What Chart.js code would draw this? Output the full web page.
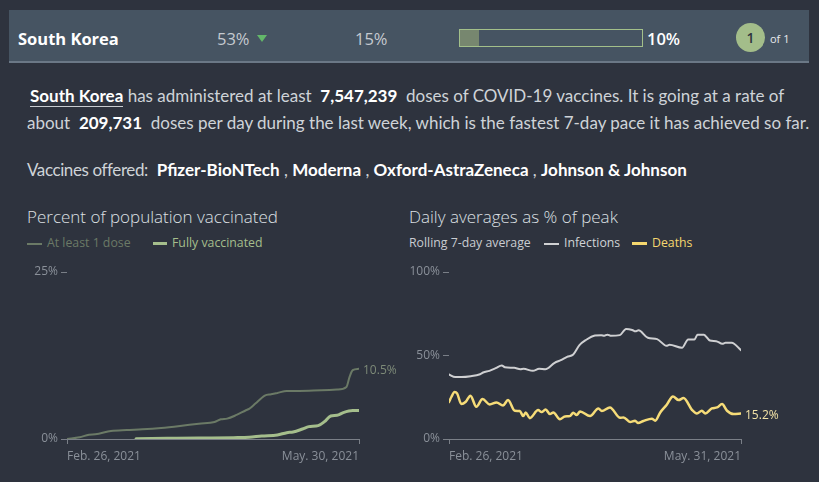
<!DOCTYPE html>
<html>
<head>
<meta charset="utf-8">
<script src="https://cdn.jsdelivr.net/npm/chart.js@4"></script>
<style>
  body { margin:0; width:819px; height:482px; background:#2e333e; overflow:hidden; position:relative; font-family:"Lato", "Open Sans", sans-serif; }
  .abs { position:absolute; white-space:nowrap; }
  #band { left:9px; top:10px; width:800px; height:51px; background:#465462; border-bottom:2px solid #6b7886; }
  .hd { font-family:"Open Sans", sans-serif; }
  .para { font-size:17px; line-height:20px; color:#cfd3d8; }
  .para b { color:#fff; font-weight:700; }
  .ttl { font-family:"Open Sans", sans-serif; font-size:17px; color:#dde0e4; font-weight:300; }
  .lg { font-family:"Open Sans", sans-serif; font-size:12.3px; line-height:14px; }
  .dash { position:absolute; height:2px; }
  canvas { position:absolute; }
</style>
</head>
<body>
<div id="band" class="abs"></div>
<div class="abs hd" style="left:18px;top:27px;font-size:16.5px;font-weight:700;color:#fff;">South Korea</div>
<div class="abs hd" style="left:217px;top:27px;font-size:16.5px;color:#c5cad0;">53%</div>
<div class="abs" style="left:257px;top:35px;width:0;height:0;border-left:5px solid transparent;border-right:5px solid transparent;border-top:7px solid #63b86a;"></div>
<div class="abs hd" style="left:355px;top:27px;font-size:16.5px;color:#c5cad0;">15%</div>
<div class="abs" style="left:459px;top:29px;width:182px;height:16px;border:1px solid #a3c08a;"></div>
<div class="abs" style="left:460px;top:30px;width:19px;height:16px;background:#77876f;"></div>
<div class="abs hd" style="left:647px;top:27px;font-size:16.5px;font-weight:600;color:#fff;">10%</div>
<div class="abs" style="left:736px;top:23px;width:29px;height:29px;border-radius:50%;background:#a3bd8a;"></div>
<div class="abs hd" style="left:736px;top:28px;width:29px;text-align:center;font-size:14px;font-weight:600;color:#2e333e;">1</div>
<div class="abs hd" style="left:770px;top:31px;font-size:11px;color:#e8eaec;">of 1</div>

<div class="abs para" style="left:30px;top:86px;"><b style="border-bottom:1px solid #c8ccd0;">South Korea</b> has administered at least&nbsp; <b>7,547,239</b>&nbsp; doses of COVID-19 vaccines. It is going at a rate of</div>
<div class="abs para" style="left:27px;top:113px;">about&nbsp; <b>209,731</b>&nbsp; doses per day during the last week, which is the fastest 7-day pace it has achieved so far.</div>
<div class="abs para" style="left:27px;top:160px;"><span style="letter-spacing:-0.4px;">Vaccines offered:</span>&nbsp; <b>Pfizer-BioNTech</b> , <b>Moderna</b> , <b>Oxford-AstraZeneca</b> , <b>Johnson &amp; Johnson</b></div>

<div class="abs ttl" style="left:27px;top:205px;">Percent of population vaccinated</div>
<div class="abs ttl" style="left:409px;top:205px;">Daily averages as % of peak</div>

<div class="dash" style="left:27px;top:243px;width:15px;background:#6b7a66;"></div>
<div class="abs lg" style="left:47px;top:236px;color:#6b7a66;">At least 1 dose</div>
<div class="dash" style="left:153px;top:242px;width:14px;height:3px;background:#a5be8c;"></div>
<div class="abs lg" style="left:172px;top:236px;color:#a5be8c;">Fully vaccinated</div>

<div class="abs lg" style="left:409px;top:236px;color:#c9ccd1;">Rolling 7-day average</div>
<div class="dash" style="left:544px;top:243px;width:15px;background:#cfd0d2;"></div>
<div class="abs lg" style="left:564px;top:236px;color:#d0d3d6;">Infections</div>
<div class="dash" style="left:632px;top:242px;width:15px;height:3px;background:#f5d76e;"></div>
<div class="abs lg" style="left:652px;top:236px;color:#f5d76e;">Deaths</div>

<canvas id="vaxChart" width="400" height="210" style="left:0;top:260px;"></canvas>
<canvas id="peakChart" width="419" height="210" style="left:400px;top:260px;"></canvas>

<script>
// day offsets from Feb. 26, 2021
const vaxTickLabels = ['Feb. 26, 2021', 'May. 30, 2021'];
const vaxMaxDay = 93;
const oneDoseDays = [0, 4, 7, 9, 14, 19, 24, 30, 36, 42, 47, 49, 51, 54, 57, 58, 60, 63, 65, 67, 70, 74, 81, 86, 89, 90, 91, 93];
const oneDoseValues = [0, 0.25, 0.65, 0.7, 1.2, 1.35, 1.45, 1.65, 1.95, 2.3, 2.55, 2.95, 3.05, 3.6, 4.3, 4.5, 5.3, 6.5, 6.7, 6.9, 7.2, 7.2, 7.3, 7.4, 7.8, 9.3, 10.3, 10.5];
const fullyDays = [22, 32, 42, 53, 58, 62, 67, 70, 72, 75, 77, 80, 82, 84, 86, 88, 91, 93];
const fullyValues = [0.05, 0.1, 0.15, 0.2, 0.25, 0.45, 0.6, 0.95, 1.05, 1.5, 1.85, 2.0, 2.6, 3.45, 3.55, 3.95, 4.25, 4.25];

const peakTickLabels = ['Feb. 26, 2021', 'May. 31, 2021'];
const peakMaxDay = 94;
const infectionDays = [0, 2, 4, 7, 10, 11, 13, 15, 17, 18, 21, 23, 24, 27, 29, 31, 34, 36, 38, 40, 42, 44, 47, 49, 50, 51, 52, 55, 57, 59, 60, 61, 64, 67, 70, 71, 75, 77, 79, 80, 82, 84, 86, 88, 89, 91, 94];
const infectionValues = [38.6, 37.1, 37.1, 37.6, 38.8, 39.8, 40.8, 42.4, 44.0, 43.0, 42.6, 41.8, 42.0, 40.8, 42.0, 41.8, 45.6, 47.2, 49.2, 50.6, 56.2, 59.2, 62.0, 62.2, 61.8, 62.5, 61.8, 62.2, 65.9, 65.3, 64.5, 65.1, 60.6, 59.8, 55.8, 56.4, 54.6, 59.6, 59.6, 62.4, 62.5, 59.0, 58.6, 57.0, 57.6, 57.6, 53.2];
const deathDays = [0, 0.8, 1.8, 2.6, 4, 5.4, 6.9, 8.8, 10.8, 13.1, 15.3, 17.4, 19, 21.2, 22.8, 23.9, 24.7, 26, 28.7, 29.8, 31.1, 32.5, 33.6, 35.7, 37.3, 38.9, 40, 41.1, 42.2, 45.4, 48.1, 49.2, 51.8, 55.1, 56.2, 58.3, 59.9, 60.8, 62.6, 65.3, 66.4, 68, 70.1, 72.1, 73.9, 75.5, 78.2, 79.8, 81.4, 82.5, 84.6, 86.3, 87.9, 89.5, 91.6, 94];
const deathValues = [22.1, 25.3, 28.1, 27.3, 20.9, 22.3, 25.9, 19.3, 23.9, 20.7, 21.9, 20.1, 23.3, 16.9, 16.7, 13.7, 15.9, 12.5, 17.3, 16.1, 17.7, 14.9, 15.9, 11.8, 13.5, 13.7, 15.7, 14.3, 16.5, 13.7, 18.3, 16.7, 18.9, 12.7, 12.9, 10.2, 11.0, 9.6, 10.8, 12.2, 11.0, 15.9, 20.5, 25.5, 23.3, 24.5, 17.5, 15.3, 16.9, 15.3, 18.3, 18.9, 20.9, 16.9, 14.9, 15.2];

const axisColor = '#7a7f87';
const tickColor = '#8a9099';
const tickFont = { family: 'Open Sans', size: 12 };

function pts(days, vals) {
    return days.map((d, i) => ({ x: d, y: vals[i] }));
}

// writes the last value next to the end of a line
const endLabel = {
    id: 'endLabel',
    afterDatasetsDraw(chart) {
        const c = chart.ctx;
        chart.data.datasets.forEach((ds, i) => {
            if (!ds.endText) return;
            const meta = chart.getDatasetMeta(i);
            const p = meta.data[meta.data.length - 1];
            c.save();
            c.font = '12px "Open Sans"';
            c.fillStyle = ds.endColor;
            c.textBaseline = 'middle';
            c.fillText(ds.endText, p.x + 4, p.y + 2);
            c.restore();
        });
    }
};

function makeChart(id, datasets, maxDay, yMax, tickLabels, yWidth, padRight) {
    return new Chart(document.getElementById(id), {
        type: 'line',
        data: { datasets: datasets },
        options: {
            responsive: false,
            animation: false,
            devicePixelRatio: 1,
            layout: { padding: { top: 12, right: padRight, left: 0, bottom: 0 } },
            plugins: { legend: { display: false }, tooltip: { enabled: false } },
            elements: { point: { radius: 0 }, line: { cubicInterpolationMode: 'monotone', borderCapStyle: 'round' } },
            scales: {
                x: {
                    type: 'linear', min: 0, max: maxDay,
                    afterBuildTicks: s => { s.ticks = [{ value: 0 }, { value: maxDay }]; },
                    afterFit: s => { s.height = 31; },
                    ticks: { align: 'inner', maxRotation: 0, padding: 5, color: tickColor, font: tickFont,
                        callback: v => v === 0 ? tickLabels[0] : tickLabels[1] },
                    grid: { drawOnChartArea: false, tickLength: 5, color: axisColor },
                    border: { color: axisColor }
                },
                y: {
                    min: 0, max: yMax,
                    afterBuildTicks: s => { s.ticks = [{ value: 0 }, { value: yMax / 2 }, { value: yMax }].filter(t => yMax === 100 || t.value !== yMax / 2); },
                    afterFit: s => { s.width = yWidth; },
                    ticks: { padding: 3, color: tickColor, font: tickFont, callback: v => v + '%' },
                    grid: { drawOnChartArea: false, tickLength: 6, color: axisColor },
                    border: { display: false }
                }
            }
        },
        plugins: [endLabel]
    });
}

makeChart('vaxChart', [
    { data: pts(oneDoseDays, oneDoseValues), borderColor: '#6b7a66', borderWidth: 2, endText: '10.5%', endColor: '#7d8a78' },
    { data: pts(fullyDays, fullyValues), borderColor: '#a5be8c', borderWidth: 3 }
], vaxMaxDay, 25, vaxTickLabels, 67, 41);

makeChart('peakChart', [
    { data: pts(infectionDays, infectionValues), borderColor: '#cfd0d2', borderWidth: 2 },
    { data: pts(deathDays, deathValues), borderColor: '#f6dc78', borderWidth: 2.5, endText: '15.2%', endColor: '#f3e3a6' }
], peakMaxDay, 100, peakTickLabels, 49, 78);
</script>
</body>
</html>
